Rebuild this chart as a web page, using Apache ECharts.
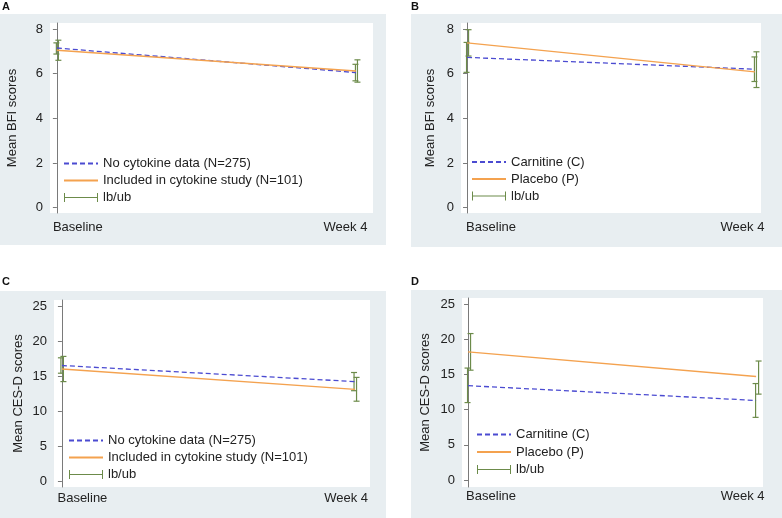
<!DOCTYPE html>
<html>
<head>
<meta charset="utf-8">
<script src="https://cdn.jsdelivr.net/npm/echarts@6/dist/echarts.min.js"></script>
<style>
  html, body { margin: 0; padding: 0; background: #fff; }
  #wrap { position: relative; width: 782px; height: 518px; }
  .bg { position: absolute; background: #e8eef1; }
  #chart { position: absolute; left: 0; top: 0; width: 782px; height: 518px; }
</style>
</head>
<body>
<div id="wrap">
  <div class="bg" style="left:0;top:14px;width:386px;height:231px"></div>
  <div class="bg" style="left:411px;top:14px;width:371px;height:233px"></div>
  <div class="bg" style="left:0;top:291px;width:386px;height:227px"></div>
  <div class="bg" style="left:411px;top:290px;width:371px;height:228px"></div>
  <div id="chart"></div>
</div>
<script>
const categories = ['Baseline', 'Week 4']
const bfiTicks = [0, 2, 4, 6, 8]
const cesTicks = [0, 5, 10, 15, 20, 25]

// A: BFI by cytokine sample
const bfiNoCyto = [7.15, 6.05]
const bfiNoCytoLb = [6.88, 5.68]
const bfiNoCytoUb = [7.38, 6.42]
const bfiCyto = [7.05, 6.12]
const bfiCytoLb = [6.6, 5.62]
const bfiCytoUb = [7.5, 6.62]

// B: BFI by treatment
const bfiCarn = [6.73, 6.2]
const bfiCarnLb = [6.06, 5.65]
const bfiCarnUb = [7.4, 6.75]
const bfiPlac = [7.38, 6.08]
const bfiPlacLb = [6.79, 5.38]
const bfiPlacUb = [7.97, 6.98]

// C: CES-D by cytokine sample
const cesNoCyto = [16.5, 14.2]
const cesNoCytoLb = [15.4, 12.9]
const cesNoCytoUb = [17.6, 15.5]
const cesCyto = [16.0, 13.1]
const cesCytoLb = [14.2, 11.4]
const cesCytoUb = [17.8, 14.8]

// D: CES-D by treatment
const cesCarn = [13.4, 11.3]
const cesCarnLb = [11.0, 8.9]
const cesCarnUb = [15.9, 13.7]
const cesPlac = [18.2, 14.7]
const cesPlacLb = [15.6, 12.2]
const cesPlacUb = [20.8, 16.9]

const BLUE = '#4b4bd1'
const ORANGE = '#f4a24f'
const GREEN = '#6c8b4a'
const TXT = '#222'
const FONT = '"Liberation Sans", Arial, sans-serif'
const capIcon = 'path://M0,2h1v9h-1z M0,6h34v1h-34z M33,2h1v9h-1z'

const panels = [
  {
    letter: 'A', letterPos: [2, 1],
    grid: {left: 50, top: 23, width: 323, height: 190},
    x: [-0.023, 1.057], y: [-0.24, 8.27], ticks: bfiTicks,
    yName: 'Mean BFI scores', nameGap: 31, labelOff: [21, -10.5], labelMargin: 8,
    legend: {left: 63, top: 157, gap: 4},
    groups: [
      {name: 'No cytokine data (N=275)', color: BLUE, dashed: true, vals: bfiNoCyto, lb: bfiNoCytoLb, ub: bfiNoCytoUb, off: -0.5},
      {name: 'Included in cytokine study (N=101)', color: ORANGE, dashed: false, vals: bfiCyto, lb: bfiCytoLb, ub: bfiCytoUb, off: 1.5}
    ]
  },
  {
    letter: 'B', letterPos: [411, 1],
    grid: {left: 461, top: 23, width: 300, height: 190},
    x: [-0.021, 1.021], y: [-0.24, 8.27], ticks: bfiTicks,
    yName: 'Mean BFI scores', nameGap: 24, labelOff: [24, -12.5], labelMargin: 8,
    legend: {left: 471, top: 155.5, gap: 4},
    groups: [
      {name: 'Carnitine (C)', color: BLUE, dashed: true, vals: bfiCarn, lb: bfiCarnLb, ub: bfiCarnUb, off: -0.5},
      {name: 'Placebo (P)', color: ORANGE, dashed: false, vals: bfiPlac, lb: bfiPlacLb, ub: bfiPlacUb, off: 1.5}
    ]
  },
  {
    letter: 'C', letterPos: [2, 276],
    grid: {left: 54, top: 300, width: 316, height: 187},
    x: [-0.027, 1.051], y: [-0.86, 25.86], ticks: cesTicks,
    yName: 'Mean CES-D scores', nameGap: 29.5, labelOff: [20.5, -9], labelMargin: 5,
    legend: {left: 68, top: 434, gap: 4},
    groups: [
      {name: 'No cytokine data (N=275)', color: BLUE, dashed: true, vals: cesNoCyto, lb: cesNoCytoLb, ub: cesNoCytoUb, off: -1},
      {name: 'Included in cytokine study (N=101)', color: ORANGE, dashed: false, vals: cesCyto, lb: cesCytoLb, ub: cesCytoUb, off: 1.5}
    ]
  },
  {
    letter: 'D', letterPos: [411, 276],
    grid: {left: 462, top: 298, width: 301, height: 189},
    x: [-0.021, 1.024], y: [-0.99, 25.85], ticks: cesTicks,
    yName: 'Mean CES-D scores', nameGap: 30, labelOff: [23, -13.5], labelMargin: 3,
    legend: {left: 476, top: 428, gap: 4.5},
    groups: [
      {name: 'Carnitine (C)', color: BLUE, dashed: true, vals: cesCarn, lb: cesCarnLb, ub: cesCarnUb, off: -0.5},
      {name: 'Placebo (P)', color: ORANGE, dashed: false, vals: cesPlac, lb: cesPlacLb, ub: cesPlacUb, off: 2.5}
    ]
  }
]

// draws one rcap (vertical bar with caps) for each data row [x, lb, ub]
function capRenderer(off) {
  return function (params, api) {
    const lo = api.coord([api.value(0), api.value(1)])
    const hi = api.coord([api.value(0), api.value(2)])
    const cx = lo[0] + off
    const st = {stroke: GREEN, lineWidth: 1.2}
    return {
      type: 'group',
      children: [
        {type: 'line', shape: {x1: cx, y1: lo[1], x2: cx, y2: hi[1]}, style: st},
        {type: 'line', shape: {x1: cx - 3, y1: lo[1], x2: cx + 3, y2: lo[1]}, style: st},
        {type: 'line', shape: {x1: cx - 3, y1: hi[1], x2: cx + 3, y2: hi[1]}, style: st}
      ]
    }
  }
}

const option = {
  animation: false,
  textStyle: {fontFamily: FONT},
  title: [], grid: [], xAxis: [], yAxis: [], legend: [], series: []
}

panels.forEach((p, i) => {
  option.title.push({
    text: p.letter, left: p.letterPos[0], top: p.letterPos[1], padding: 0,
    textStyle: {fontSize: 11, fontWeight: 'bold', color: '#111', fontFamily: FONT}
  })
  option.grid.push(Object.assign({show: true, backgroundColor: '#fff', borderWidth: 0}, p.grid))
  option.xAxis.push({
    type: 'value', gridIndex: i, min: p.x[0], max: p.x[1],
    axisLine: {show: false}, axisTick: {show: false}, splitLine: {show: false},
    axisLabel: {
      customValues: [0, 1], margin: p.labelMargin, color: TXT, fontSize: 13,
      formatter: v => (v === 0 ? '{a|' : '{b|') + categories[Math.round(v)] + '}',
      rich: {
        a: {fontSize: 13, color: TXT, fontFamily: FONT, padding: [0, 0, 0, 2 * p.labelOff[0]]},
        b: {fontSize: 13, color: TXT, fontFamily: FONT, padding: [0, -2 * p.labelOff[1], 0, 0]}
      }
    }
  })
  option.yAxis.push({
    type: 'value', gridIndex: i, min: p.y[0], max: p.y[1],
    name: p.yName, nameLocation: 'middle', nameGap: p.nameGap,
    nameTextStyle: {fontSize: 13, color: TXT},
    axisLine: {show: true, lineStyle: {color: '#7a7a7a', width: 1}},
    axisTick: {show: true, customValues: p.ticks, length: 4, lineStyle: {color: '#7a7a7a'}},
    axisLabel: {customValues: p.ticks, margin: 7, color: TXT, fontSize: 13},
    splitLine: {show: false}
  })
  option.legend.push({
    orient: 'vertical', left: p.legend.left, top: p.legend.top, padding: 0,
    itemWidth: 34, itemHeight: 13, itemGap: p.legend.gap,
    textStyle: {fontSize: 13, color: TXT},
    selectedMode: false,
    data: [
      {name: p.groups[0].name, itemStyle: {opacity: 0}},
      {name: p.groups[1].name, itemStyle: {opacity: 0}},
      {name: 'lb/ub', icon: capIcon}
    ]
  })
  p.groups.forEach(g => {
    option.series.push({
      type: 'line', name: g.name, xAxisIndex: i, yAxisIndex: i,
      data: g.vals.map((v, k) => [k, v]),
      symbol: 'none', color: g.color,
      lineStyle: {color: g.color, width: 1.3, type: g.dashed ? [5, 3] : 'solid'}
    })
  })
  p.groups.forEach(g => {
    option.series.push({
      type: 'custom', name: 'lb/ub', xAxisIndex: i, yAxisIndex: i,
      itemStyle: {color: GREEN}, color: GREEN,
      renderItem: capRenderer(g.off),
      data: g.lb.map((v, k) => [k, v, g.ub[k]]),
      z: 3
    })
  })
})

const chart = echarts.init(document.getElementById('chart'), null, {renderer: 'canvas'})
chart.setOption(option)
</script>
</body>
</html>
